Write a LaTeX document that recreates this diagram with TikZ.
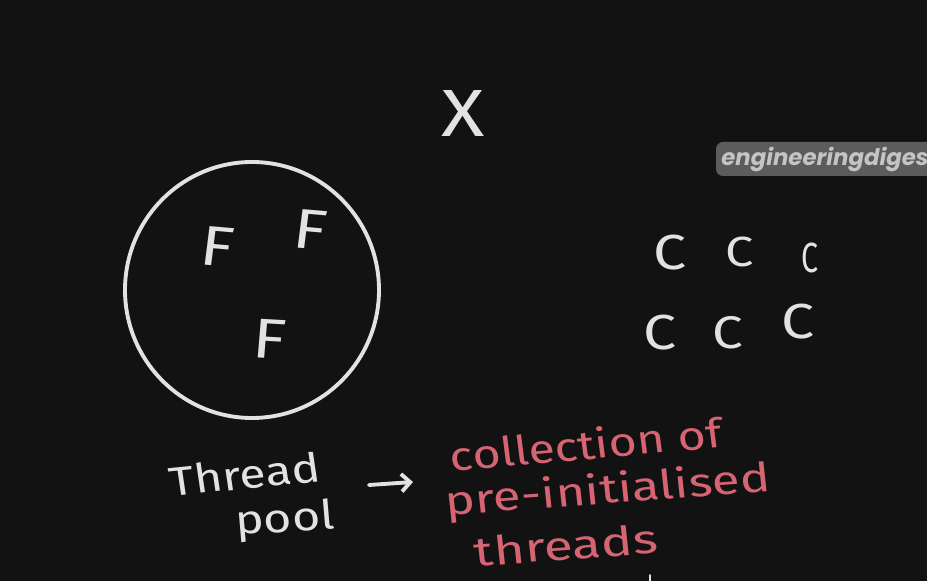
\documentclass[tikz,border=0pt]{standalone}
\usepackage{xcolor}
\usepackage{fontspec}
\usepackage{tikz}
\usetikzlibrary{arrows.meta}

\newfontfamily\handfont{Fira Sans}
\newfontfamily\wmfont{Poppins}

\definecolor{boardbg}{RGB}{18,18,18}
\definecolor{chalkwhite}{RGB}{226,226,226}
\definecolor{chalkred}{RGB}{214,100,114}
\definecolor{wmbox}{RGB}{92,92,92}
\definecolor{wmtext}{RGB}{196,196,196}

\begin{document}
\begin{tikzpicture}[x=0.02cm, y=-0.02cm,
    chalk/.style={draw=chalkwhite, line width=2.2pt, line cap=round, line join=round},
    hand/.style={text=chalkwhite, inner sep=0pt, font=\handfont\fontsize{23}{23}\selectfont, xscale=1.2},
    redhand/.style={hand, text=chalkred},
    letter/.style={hand, xscale=1, font=\handfont\fontsize{32}{32}\selectfont}]

    % Board
    \fill[boardbg] (0,0) rectangle (927,581);
    \useasboundingbox (0,0) rectangle (927,581);

    % Watermark
    \begin{scope}
        \clip (0,0) rectangle (927,581);
        \fill[wmbox, rounded corners=4pt] (716,142) rectangle (945,176);
        \node[anchor=west, text=wmtext, inner sep=0pt, font=\wmfont\bfseries\itshape\fontsize{13}{13}\selectfont] (wmark) at (721,159) {engineeringdigest};
    \end{scope}

    % X
    \node[letter, font=\handfont\fontsize{38}{38}\selectfont] (xmark) at (463,114) {X};

    % Pool
    \draw[chalk] (252,290) ellipse [x radius=127, y radius=128];
    \node[letter, rotate=-6] (fone) at (217,247) {F};
    \node[letter, rotate=-6] (ftwo) at (310,230) {F};
    \node[letter, rotate=-4] (fthree) at (270,339) {F};

    % C's
    \node[letter, font=\handfont\fontsize{28}{28}\selectfont] (cone) at (670,253) {C};
    \node[letter, font=\handfont\fontsize{24}{24}\selectfont] (ctwo) at (740,252) {C};
    \node[letter, font=\handfont\fontsize{24}{24}\selectfont, xscale=0.6] (cthree) at (810,258) {C};
    \node[letter, font=\handfont\fontsize{28}{28}\selectfont] (cfour) at (660,333) {C};
    \node[letter, font=\handfont\fontsize{26}{26}\selectfont] (cfive) at (728,333) {C};
    \node[letter, font=\handfont\fontsize{28}{28}\selectfont] (csix) at (798,322) {C};

    % Thread pool
    \node[hand, rotate=7] (threadlbl) at (245,474) {Thread};
    \node[hand, rotate=4] (poollbl) at (285,521) {pool};
    \coordinate (arrtail) at (369,485);
    \coordinate (arrhead) at (413,482);
    \draw[chalk, -{Straight Barb[length=5pt, width=10pt]}] (arrtail) -- (arrhead);

    % Definition
    \node[redhand, rotate=6] (defone) at (586,444) {collection of};
    \node[redhand, rotate=5, xscale=1.05] (deftwo) at (608,492) {pre-initialised};
    \node[redhand, rotate=5, xscale=1.1] (defthree) at (566,545) {threads};

    % cursor mark
    \draw[chalk, line width=1pt] (650,575) -- (650,581);
\end{tikzpicture}
\end{document}
